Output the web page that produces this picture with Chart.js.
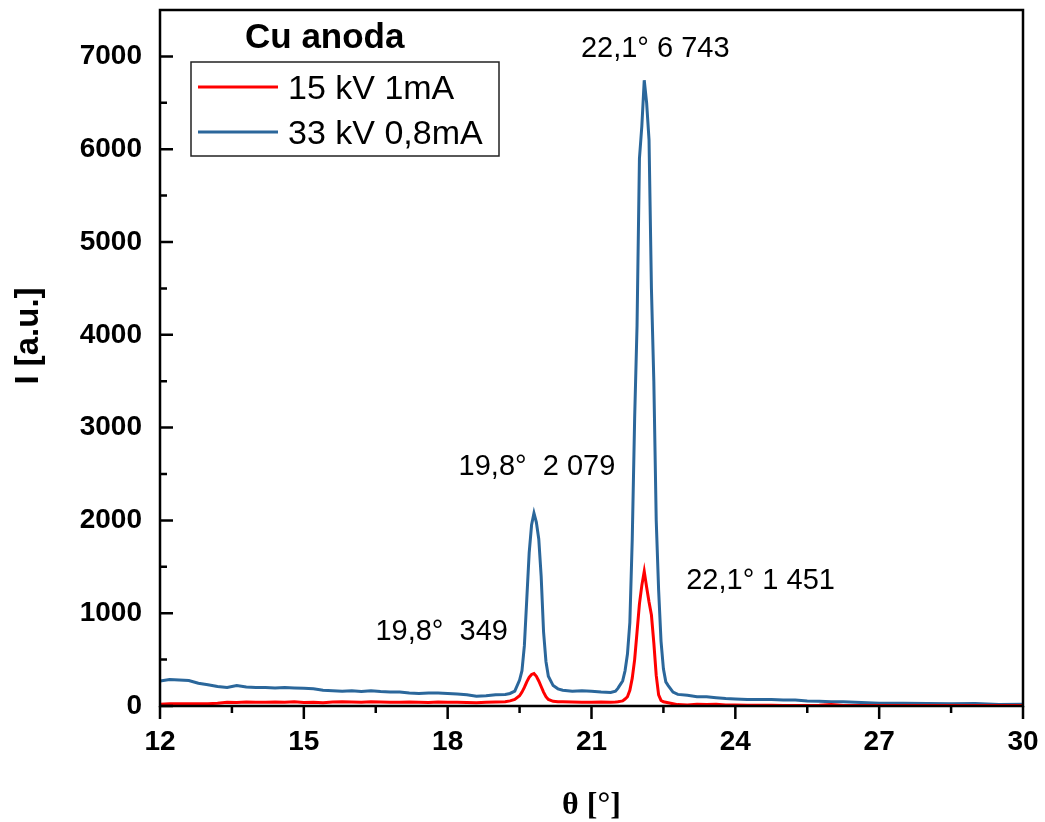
<!DOCTYPE html>
<html>
<head>
<meta charset="utf-8">
<script src="https://cdn.jsdelivr.net/npm/chart.js@4.4.0/dist/chart.umd.min.js"></script>
<style>
  html, body { margin: 0; padding: 0; background: #fff; }
</style>
</head>
<body>
<canvas id="canvas" width="1045" height="822"></canvas>
<script>
// theta [deg] - shared x values for both scans
const theta = [
  12.0, 12.2, 12.4, 12.6, 12.8, 13.0, 13.2, 13.4, 13.6, 13.8,
  14.0, 14.2, 14.4, 14.6, 14.8, 15.0, 15.2, 15.4, 15.6, 15.8,
  16.0, 16.2, 16.4, 16.6, 16.8, 17.0, 17.2, 17.4, 17.6, 17.8,
  18.0, 18.2, 18.4, 18.6, 18.8, 19.0, 19.2,
  19.3, 19.4, 19.5, 19.55, 19.6, 19.65, 19.7, 19.75, 19.8, 19.85,
  19.9, 19.95, 20.0, 20.05, 20.1, 20.2, 20.3, 20.4,
  20.6, 20.8, 21.0, 21.2, 21.4,
  21.5, 21.55, 21.6, 21.65, 21.7, 21.75, 21.8, 21.85, 21.9, 21.95,
  22.0, 22.05, 22.1, 22.15, 22.2, 22.25, 22.3, 22.35, 22.4, 22.45,
  22.5, 22.55, 22.6, 22.7, 22.8,
  23.0, 23.2, 23.4, 23.6, 23.8, 24.0, 24.25, 24.5, 24.75, 25.0,
  25.25, 25.5, 25.75, 26.0, 26.25, 26.5, 26.75, 27.0, 27.5, 28.0,
  28.5, 29.0, 29.5, 30.0
];

// 15 kV 1mA
const scan15kV = [
  20, 25, 25, 25, 25, 25, 30, 40, 38, 42,
  40, 40, 42, 40, 45, 38, 40, 35, 42, 45,
  42, 40, 45, 42, 40, 40, 42, 40, 38, 42,
  40, 40, 38, 35, 40, 42, 45,
  55, 70, 110, 150, 200, 260, 310, 340, 349, 320,
  270, 210, 150, 100, 70, 50, 45, 45,
  42, 40, 40, 42, 40,
  42, 45, 50, 55, 75, 100, 170, 300, 500, 800,
  1100, 1300, 1451, 1280, 1120, 980, 680, 330, 120, 60,
  45, 40, 35, 25, 15,
  12, 20, 15, 18, 12, 10, 8, 8, 8, 6,
  5, 5, 8, 15, 6, 5, 5, 5, 5, 5,
  5, 5, 5, 5
];

// 33 kV 0,8mA
const scan33kV = [
  270, 285, 280, 275, 245, 230, 210, 200, 220, 205,
  200, 200, 195, 200, 195, 190, 185, 170, 165, 160,
  165, 155, 165, 155, 150, 150, 140, 135, 140, 140,
  135, 130, 120, 105, 110, 120, 125,
  135, 160, 280, 380, 650, 1150, 1650, 1950, 2079, 1980,
  1800, 1400, 800, 480, 320, 220, 185, 170,
  160, 165, 160, 150, 145,
  160, 190, 230, 270, 380, 560, 900, 1800, 3100, 4100,
  5900, 6250, 6743, 6500, 6100, 4500, 3500, 2000, 1250, 700,
  400, 260, 220, 150, 125,
  115, 100, 100, 90, 80, 75, 70, 70, 70, 65,
  65, 55, 50, 45, 45, 40, 35, 30, 30, 28,
  25, 28, 15, 20
];

const seriesLabels = ['15 kV 1mA', '33 kV 0,8mA'];
const seriesColors = ['#ff0000', '#2b679b'];
const legendTitle = 'Cu anoda';

const xTicks = [12, 15, 18, 21, 24, 27, 30];
const xMinorTicks = [13.5, 16.5, 19.5, 22.5, 25.5, 28.5];
const yTicks = [0, 1000, 2000, 3000, 4000, 5000, 6000, 7000];
const yMinorTicks = [500, 1500, 2500, 3500, 4500, 5500, 6500];

const peakTexts = ['19,8°  349', '19,8°  2 079', '22,1° 6 743', '22,1° 1 451'];
const peakTheta = [19.8, 19.8, 22.1, 22.1];
const peakValue = [349, 2079, 6743, 1451];

const xTitle = 'θ [°]';
const yTitle = 'I [a.u.]';

// where each peak label sits relative to its peak (px), and how it is aligned
const peakLabelPlace = [
  { dx: -26, dy: -34, align: 'right' },
  { dx: 3, dy: -38, align: 'center' },
  { dx: 11, dy: -23, align: 'center' },
  { dx: 42, dy: 18, align: 'left' }
];

const SANS = '"Liberation Sans", Arial, sans-serif';

const frameAndExtras = {
  id: 'frameAndExtras',
  afterDraw(chart) {
    const { ctx, chartArea: a, scales: { x, y } } = chart;
    ctx.save();

    // frame
    ctx.strokeStyle = '#000';
    ctx.lineWidth = 2.5;
    ctx.strokeRect(a.left, a.top, a.right - a.left, a.bottom - a.top);

    // x ticks point down, y ticks point into the plot
    ctx.beginPath();
    xTicks.forEach(v => { const px = x.getPixelForValue(v); ctx.moveTo(px, a.bottom); ctx.lineTo(px, a.bottom + 13); });
    xMinorTicks.forEach(v => { const px = x.getPixelForValue(v); ctx.moveTo(px, a.bottom); ctx.lineTo(px, a.bottom + 7); });
    yTicks.forEach(v => { const py = y.getPixelForValue(v); ctx.moveTo(a.left, py); ctx.lineTo(a.left + 13, py); });
    yMinorTicks.forEach(v => { const py = y.getPixelForValue(v); ctx.moveTo(a.left, py); ctx.lineTo(a.left + 7, py); });
    ctx.stroke();

    // peak labels
    ctx.fillStyle = '#000';
    ctx.font = '29px ' + SANS;
    ctx.textBaseline = 'alphabetic';
    peakTexts.forEach((t, i) => {
      const p = peakLabelPlace[i];
      ctx.textAlign = p.align;
      ctx.fillText(t, x.getPixelForValue(peakTheta[i]) + p.dx, y.getPixelForValue(peakValue[i]) + p.dy);
    });

    // legend
    const lx = a.left + 31, ly = a.top + 52;
    ctx.textAlign = 'left';
    ctx.font = 'bold 35px ' + SANS;
    ctx.fillText(legendTitle, a.left + 85, a.top + 38);
    ctx.lineWidth = 1.5;
    ctx.strokeStyle = '#222';
    ctx.strokeRect(lx, ly, 308, 94);
    ctx.font = '34px ' + SANS;
    chart.data.datasets.forEach((ds, i) => {
      const rowY = ly + 25 + i * 45;
      ctx.strokeStyle = ds.borderColor;
      ctx.lineWidth = 3;
      ctx.beginPath();
      ctx.moveTo(lx + 7, rowY);
      ctx.lineTo(lx + 87, rowY);
      ctx.stroke();
      ctx.fillStyle = '#000';
      ctx.fillText(ds.label, lx + 97, rowY + 12);
    });

    // axis titles
    ctx.fillStyle = '#000';
    ctx.textAlign = 'center';
    ctx.font = 'bold 32px "Liberation Serif", "Times New Roman", serif';
    ctx.fillText(xTitle, (a.left + a.right) / 2, 814);
    ctx.save();
    ctx.translate(29, 336);
    ctx.rotate(-Math.PI / 2);
    ctx.textBaseline = 'middle';
    ctx.font = 'bold 33px ' + SANS;
    ctx.fillText(yTitle, 0, 0);
    ctx.restore();

    ctx.restore();
  }
};

const noPad = s => { s.paddingTop = 0; s.paddingBottom = 0; s.paddingLeft = 0; s.paddingRight = 0; };

const ctx = document.getElementById('canvas');
new Chart(ctx, {
  type: 'line',
  data: {
    labels: theta,
    datasets: [
      {
        label: seriesLabels[0],
        data: theta.map((t, i) => ({ x: t, y: scan15kV[i] })),
        borderColor: seriesColors[0],
        borderWidth: 3,
        pointRadius: 0,
        tension: 0,
        fill: false
      },
      {
        label: seriesLabels[1],
        data: theta.map((t, i) => ({ x: t, y: scan33kV[i] })),
        borderColor: seriesColors[1],
        borderWidth: 3,
        pointRadius: 0,
        tension: 0,
        fill: false
      }
    ]
  },
  options: {
    responsive: false,
    animation: false,
    devicePixelRatio: 1,
    layout: { padding: { top: 10, right: 22, left: 0, bottom: 0 } },
    plugins: { legend: { display: false }, tooltip: { enabled: false } },
    scales: {
      x: {
        type: 'linear',
        min: 12,
        max: 30,
        grid: { display: false, drawTicks: false },
        border: { display: false },
        afterBuildTicks: s => { s.ticks = xTicks.map(v => ({ value: v })); },
        afterFit: s => { s.height = 116; noPad(s); },
        ticks: {
          padding: 19,
          color: '#000',
          maxRotation: 0,
          callback: v => String(v),
          font: { family: SANS, size: 28, weight: 'bold' }
        }
      },
      y: {
        type: 'linear',
        min: 0,
        max: 7500,
        grid: { display: false, drawTicks: false },
        border: { display: false },
        afterBuildTicks: s => { s.ticks = yTicks.map(v => ({ value: v })); },
        afterFit: s => { s.width = 160; noPad(s); },
        ticks: {
          padding: 18,
          color: '#000',
          callback: v => String(v),
          font: { family: SANS, size: 28, weight: 'bold' }
        }
      }
    }
  },
  plugins: [frameAndExtras]
});
</script>
</body>
</html>
